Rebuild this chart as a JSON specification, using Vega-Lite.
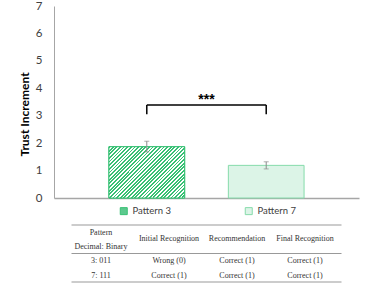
{
  "$schema": "https://vega.github.io/schema/vega-lite/v6.json",
  "padding": {"left": 18, "top": 0, "right": 5, "bottom": 5},
  "bounds": "flush",
  "center": true,
  "spacing": 27,
  "config": {"view": {"stroke": null}, "font": "Lato",
    "axisY": {"labelOverlap": false, "ticks": false, "grid": false, "domainColor": "#a6a6a6", "domainWidth": 1,
      "labelPadding": 12, "labelFontSize": 11.5, "labelColor": "#404040", "labelFont": "Lato",
      "titleFontSize": 12, "titleFontWeight": "bold", "titleColor": "#000000", "titleFont": "Lato", "titlePadding": 4, "titleY": 108}},
  "resolve": {"scale": {"x": "independent", "y": "independent", "fill": "independent", "stroke": "independent"}, "legend": {"fill": "independent", "stroke": "independent"}},
  "datasets": {
    "bars": [
      {"Pattern": "Pattern 3", "value": 1.87, "lo": 1.68, "hi": 2.07},
      {"Pattern": "Pattern 7", "value": 1.19, "lo": 1.06, "hi": 1.32}
    ],
    "bracketTop": [{"from": "Pattern 3", "to": "Pattern 7", "y": 3.39}],
    "bracketLegs": [
      {"Pattern": "Pattern 3", "y1": 3.05, "y2": 3.39},
      {"Pattern": "Pattern 7", "y1": 3.05, "y2": 3.39}
    ],
    "sig": [{"label": "***", "y": 3.44}],
    "tableRules": [{"r": 0}, {"r": 2}, {"r": 4}],
    "cells": [
      {"col": "Pattern", "row": 0.54, "t": "Pattern"},
      {"col": "Pattern", "row": 1.57, "t": "Decimal: Binary"},
      {"col": "Initial Recognition", "row": 1.01, "t": "Initial Recognition"},
      {"col": "Recommendation", "row": 1.01, "t": "Recommendation"},
      {"col": "Final Recognition", "row": 1.01, "t": "Final Recognition"},
      {"col": "Pattern", "row": 2.55, "t": "3: 011"},
      {"col": "Initial Recognition", "row": 2.55, "t": "Wrong (0)"},
      {"col": "Recommendation", "row": 2.55, "t": "Correct (1)"},
      {"col": "Final Recognition", "row": 2.55, "t": "Correct (1)"},
      {"col": "Pattern", "row": 3.56, "t": "7: 111"},
      {"col": "Initial Recognition", "row": 3.56, "t": "Correct (1)"},
      {"col": "Recommendation", "row": 3.56, "t": "Correct (1)"},
      {"col": "Final Recognition", "row": 3.56, "t": "Correct (1)"}
    ]
  },
  "vconcat": [
    {
      "width": 305,
      "height": 192,
      "encoding": {
        "x": {"field": "Pattern", "type": "nominal",
          "scale": {"domain": ["Pattern 3", "Pattern 7"], "paddingInner": 0.366, "paddingOuter": 0.46},
          "axis": {"labels": false, "ticks": false, "title": null, "domainColor": "#a6a6a6", "domainWidth": 1.5}}
      },
      "layer": [
        {
          "data": {"name": "bars"},
          "mark": {"type": "bar", "strokeWidth": 1},
          "encoding": {
            "y": {"field": "value", "type": "quantitative",
              "scale": {"domain": [0, 7], "nice": false},
              "axis": {"values": [0, 1, 2, 3, 4, 5, 6, 7], "title": "Trust Increment"}},
            "fill": {"field": "Pattern", "type": "nominal",
              "scale": {"domain": ["Pattern 3", "Pattern 7"], "range": ["#5cc98e", "#dcf4e7"]},
              "legend": {"orient": "none", "legendX": 65, "legendY": 200, "direction": "horizontal", "title": null,
                "symbolType": "square", "symbolSize": 49, "symbolStrokeColor": "#5cc98e", "symbolStrokeWidth": 1,
                "labelFont": "Lato", "labelFontSize": 9.5, "labelColor": "#404040", "labelOffset": 4, "columnPadding": 72}},
            "stroke": {"field": "Pattern", "type": "nominal",
              "scale": {"domain": ["Pattern 3", "Pattern 7"], "range": ["#38c074", "#86dbab"]}, "legend": null}
          }
        },
        {
          "data": {"name": "bars"},
          "transform": [{"filter": "datum.Pattern === 'Pattern 3'"}],
          "mark": {"type": "bar", "stroke": "#38c074", "strokeWidth": 1,
            "fill": {"gradient": "linear", "x1": 0, "y1": 0, "x2": 1.15, "y2": 0.778, "stops": [
              {"offset": 0, "color": "#38c074"},
              {"offset": 0.0143, "color": "#38c074"}, {"offset": 0.0143, "color": "#ffffff"},
              {"offset": 0.0286, "color": "#ffffff"}, {"offset": 0.0286, "color": "#38c074"},
              {"offset": 0.0429, "color": "#38c074"}, {"offset": 0.0429, "color": "#ffffff"},
              {"offset": 0.0571, "color": "#ffffff"}, {"offset": 0.0571, "color": "#38c074"},
              {"offset": 0.0714, "color": "#38c074"}, {"offset": 0.0714, "color": "#ffffff"},
              {"offset": 0.0857, "color": "#ffffff"}, {"offset": 0.0857, "color": "#38c074"},
              {"offset": 0.1, "color": "#38c074"}, {"offset": 0.1, "color": "#ffffff"},
              {"offset": 0.1143, "color": "#ffffff"}, {"offset": 0.1143, "color": "#38c074"},
              {"offset": 0.1286, "color": "#38c074"}, {"offset": 0.1286, "color": "#ffffff"},
              {"offset": 0.1429, "color": "#ffffff"}, {"offset": 0.1429, "color": "#38c074"},
              {"offset": 0.1571, "color": "#38c074"}, {"offset": 0.1571, "color": "#ffffff"},
              {"offset": 0.1714, "color": "#ffffff"}, {"offset": 0.1714, "color": "#38c074"},
              {"offset": 0.1857, "color": "#38c074"}, {"offset": 0.1857, "color": "#ffffff"},
              {"offset": 0.2, "color": "#ffffff"}, {"offset": 0.2, "color": "#38c074"},
              {"offset": 0.2143, "color": "#38c074"}, {"offset": 0.2143, "color": "#ffffff"},
              {"offset": 0.2286, "color": "#ffffff"}, {"offset": 0.2286, "color": "#38c074"},
              {"offset": 0.2429, "color": "#38c074"}, {"offset": 0.2429, "color": "#ffffff"},
              {"offset": 0.2571, "color": "#ffffff"}, {"offset": 0.2571, "color": "#38c074"},
              {"offset": 0.2714, "color": "#38c074"}, {"offset": 0.2714, "color": "#ffffff"},
              {"offset": 0.2857, "color": "#ffffff"}, {"offset": 0.2857, "color": "#38c074"},
              {"offset": 0.3, "color": "#38c074"}, {"offset": 0.3, "color": "#ffffff"},
              {"offset": 0.3143, "color": "#ffffff"}, {"offset": 0.3143, "color": "#38c074"},
              {"offset": 0.3286, "color": "#38c074"}, {"offset": 0.3286, "color": "#ffffff"},
              {"offset": 0.3429, "color": "#ffffff"}, {"offset": 0.3429, "color": "#38c074"},
              {"offset": 0.3571, "color": "#38c074"}, {"offset": 0.3571, "color": "#ffffff"},
              {"offset": 0.3714, "color": "#ffffff"}, {"offset": 0.3714, "color": "#38c074"},
              {"offset": 0.3857, "color": "#38c074"}, {"offset": 0.3857, "color": "#ffffff"},
              {"offset": 0.4, "color": "#ffffff"}, {"offset": 0.4, "color": "#38c074"},
              {"offset": 0.4143, "color": "#38c074"}, {"offset": 0.4143, "color": "#ffffff"},
              {"offset": 0.4286, "color": "#ffffff"}, {"offset": 0.4286, "color": "#38c074"},
              {"offset": 0.4429, "color": "#38c074"}, {"offset": 0.4429, "color": "#ffffff"},
              {"offset": 0.4571, "color": "#ffffff"}, {"offset": 0.4571, "color": "#38c074"},
              {"offset": 0.4714, "color": "#38c074"}, {"offset": 0.4714, "color": "#ffffff"},
              {"offset": 0.4857, "color": "#ffffff"}, {"offset": 0.4857, "color": "#38c074"},
              {"offset": 0.5, "color": "#38c074"}, {"offset": 0.5, "color": "#ffffff"},
              {"offset": 0.5143, "color": "#ffffff"}, {"offset": 0.5143, "color": "#38c074"},
              {"offset": 0.5286, "color": "#38c074"}, {"offset": 0.5286, "color": "#ffffff"},
              {"offset": 0.5429, "color": "#ffffff"}, {"offset": 0.5429, "color": "#38c074"},
              {"offset": 0.5571, "color": "#38c074"}, {"offset": 0.5571, "color": "#ffffff"},
              {"offset": 0.5714, "color": "#ffffff"}, {"offset": 0.5714, "color": "#38c074"},
              {"offset": 0.5857, "color": "#38c074"}, {"offset": 0.5857, "color": "#ffffff"},
              {"offset": 0.6, "color": "#ffffff"}, {"offset": 0.6, "color": "#38c074"},
              {"offset": 0.6143, "color": "#38c074"}, {"offset": 0.6143, "color": "#ffffff"},
              {"offset": 0.6286, "color": "#ffffff"}, {"offset": 0.6286, "color": "#38c074"},
              {"offset": 0.6429, "color": "#38c074"}, {"offset": 0.6429, "color": "#ffffff"},
              {"offset": 0.6571, "color": "#ffffff"}, {"offset": 0.6571, "color": "#38c074"},
              {"offset": 0.6714, "color": "#38c074"}, {"offset": 0.6714, "color": "#ffffff"},
              {"offset": 0.6857, "color": "#ffffff"}, {"offset": 0.6857, "color": "#38c074"},
              {"offset": 0.7, "color": "#38c074"}, {"offset": 0.7, "color": "#ffffff"},
              {"offset": 0.7143, "color": "#ffffff"}, {"offset": 0.7143, "color": "#38c074"},
              {"offset": 0.7286, "color": "#38c074"}, {"offset": 0.7286, "color": "#ffffff"},
              {"offset": 0.7429, "color": "#ffffff"}, {"offset": 0.7429, "color": "#38c074"},
              {"offset": 0.7571, "color": "#38c074"}, {"offset": 0.7571, "color": "#ffffff"},
              {"offset": 0.7714, "color": "#ffffff"}, {"offset": 0.7714, "color": "#38c074"},
              {"offset": 0.7857, "color": "#38c074"}, {"offset": 0.7857, "color": "#ffffff"},
              {"offset": 0.8, "color": "#ffffff"}, {"offset": 0.8, "color": "#38c074"},
              {"offset": 0.8143, "color": "#38c074"}, {"offset": 0.8143, "color": "#ffffff"},
              {"offset": 0.8286, "color": "#ffffff"}, {"offset": 0.8286, "color": "#38c074"},
              {"offset": 0.8429, "color": "#38c074"}, {"offset": 0.8429, "color": "#ffffff"},
              {"offset": 0.8571, "color": "#ffffff"}, {"offset": 0.8571, "color": "#38c074"},
              {"offset": 0.8714, "color": "#38c074"}, {"offset": 0.8714, "color": "#ffffff"},
              {"offset": 0.8857, "color": "#ffffff"}, {"offset": 0.8857, "color": "#38c074"},
              {"offset": 0.9, "color": "#38c074"}, {"offset": 0.9, "color": "#ffffff"},
              {"offset": 0.9143, "color": "#ffffff"}, {"offset": 0.9143, "color": "#38c074"},
              {"offset": 0.9286, "color": "#38c074"}, {"offset": 0.9286, "color": "#ffffff"},
              {"offset": 0.9429, "color": "#ffffff"}, {"offset": 0.9429, "color": "#38c074"},
              {"offset": 0.9571, "color": "#38c074"}, {"offset": 0.9571, "color": "#ffffff"},
              {"offset": 0.9714, "color": "#ffffff"}, {"offset": 0.9714, "color": "#38c074"},
              {"offset": 0.9857, "color": "#38c074"}, {"offset": 0.9857, "color": "#ffffff"},
              {"offset": 1, "color": "#ffffff"}
            ]}},
          "encoding": {
            "y": {"field": "value", "type": "quantitative", "axis": {"values": [0, 1, 2, 3, 4, 5, 6, 7], "title": "Trust Increment"}}
          }
        },
        {
          "data": {"name": "bars"},
          "mark": {"type": "rule", "color": "#8c8c8c", "strokeWidth": 1},
          "encoding": {
            "y": {"field": "lo", "type": "quantitative", "axis": {"values": [0, 1, 2, 3, 4, 5, 6, 7], "title": "Trust Increment"}},
            "y2": {"field": "hi"}
          }
        },
        {
          "data": {"name": "bars"},
          "mark": {"type": "tick", "color": "#8c8c8c", "size": 5, "thickness": 1},
          "encoding": {"y": {"field": "lo", "type": "quantitative", "axis": {"values": [0, 1, 2, 3, 4, 5, 6, 7], "title": "Trust Increment"}}}
        },
        {
          "data": {"name": "bars"},
          "mark": {"type": "tick", "color": "#8c8c8c", "size": 5, "thickness": 1},
          "encoding": {"y": {"field": "hi", "type": "quantitative", "axis": {"values": [0, 1, 2, 3, 4, 5, 6, 7], "title": "Trust Increment"}}}
        },
        {
          "data": {"name": "bracketTop"},
          "mark": {"type": "rule", "color": "#000000", "strokeWidth": 1.5},
          "encoding": {
            "x": {"field": "from", "type": "nominal"},
            "x2": {"field": "to"},
            "y": {"field": "y", "type": "quantitative", "axis": {"values": [0, 1, 2, 3, 4, 5, 6, 7], "title": "Trust Increment"}}
          }
        },
        {
          "data": {"name": "bracketLegs"},
          "mark": {"type": "rule", "color": "#000000", "strokeWidth": 1.5},
          "encoding": {
            "y": {"field": "y1", "type": "quantitative", "axis": {"values": [0, 1, 2, 3, 4, 5, 6, 7], "title": "Trust Increment"}},
            "y2": {"field": "y2"}
          }
        },
        {
          "data": {"name": "sig"},
          "mark": {"type": "text", "font": "Liberation Sans", "fontSize": 14, "fontWeight": "bold", "color": "#000000", "baseline": "alphabetic"},
          "encoding": {
            "x": null,
            "y": {"field": "y", "type": "quantitative", "axis": {"values": [0, 1, 2, 3, 4, 5, 6, 7], "title": "Trust Increment"}},
            "text": {"field": "label"}
          }
        }
      ]
    },
    {
      "width": 270,
      "height": 57,
      "layer": [
        {
          "data": {"name": "tableRules"},
          "mark": {"type": "rule", "color": "#999999", "strokeWidth": 1},
          "encoding": {
            "y": {"field": "r", "type": "quantitative", "scale": {"domain": [0, 4], "reverse": true, "nice": false, "zero": false}, "axis": null}
          }
        },
        {
          "data": {"name": "cells"},
          "mark": {"type": "text", "font": "Liberation Serif", "fontSize": 8, "color": "#333333", "baseline": "middle"},
          "encoding": {
            "x": {"field": "col", "type": "nominal",
              "scale": {"type": "point", "domain": ["Pattern", "Initial Recognition", "Recommendation", "Final Recognition"], "padding": 0.485, "align": 0.447},
              "axis": null},
            "y": {"field": "row", "type": "quantitative", "axis": null},
            "text": {"field": "t"}
          }
        }
      ]
    }
  ]
}
